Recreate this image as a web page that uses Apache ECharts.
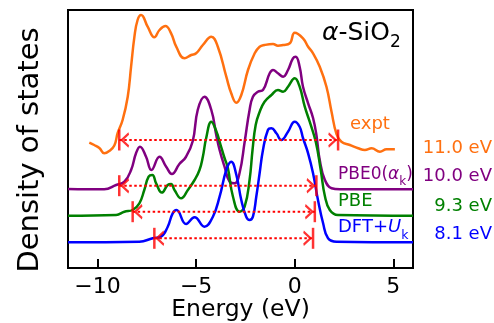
<!DOCTYPE html>
<html>
<head>
<meta charset="utf-8">
<script src="https://cdn.jsdelivr.net/npm/echarts@6/dist/echarts.min.js"></script>
<style>
  html, body { margin: 0; padding: 0; background: #fff; }
  #container { width: 494px; height: 323px; }
</style>
</head>
<body>
<div id="container"></div>
<script>
// curves, already shifted vertically (arb. units)
var exptE = [-10.42,-10.17,-9.91,-9.66,-9.41,-9.15,-8.98,-8.73,-8.47,-8.30,-8.13,-7.97,-7.79,-7.46,-7.12,-6.86,-6.56,-6.27,-6.01,-5.59,-5.25,-5.00,-4.66,-4.23,-3.90,-3.47,-3.22,-2.96,-2.71,-2.37,-2.03,-1.78,-1.53,-1.10,-0.85,-0.59,-0.25,0,0.42,0.68,0.93,1.27,1.61,1.87,2.12,2.37,2.80,3.22,3.56,3.90,4.32,4.66,5.08];
var exptD = [125.3,123,120,114.7,117,122.5,135,148,171.3,201.3,231.3,248,253,241.3,230.7,238,242,234.7,221.3,209.7,213,214.7,223,231.3,221.3,191.3,174.7,165.3,173,198,214.7,221.3,223,224,222.3,223,224.7,235.3,229.7,221.3,214.7,201.3,181.3,156,134,126.3,123,119.7,118,119.7,116.3,118.7,118.7];

var pbe0E = [-11.5,-9.66,-9.06,-8.64,-8.30,-8.05,-7.85,-7.54,-7.27,-6.86,-6.52,-6.23,-5.85,-5.52,-5.17,-4.92,-4.58,-4.23,-3.98,-3.81,-3.56,-3.30,-3.05,-2.80,-2.54,-2.29,-2.12,-1.87,-1.61,-1.27,-1.10,-0.85,-0.59,-0.34,-0.09,0.05,0.25,0.42,0.68,0.93,1.10,1.27,1.53,1.87,2.29,6.0];
var pbe0D = [79,78.7,83,86.3,98,114.7,121.3,111.3,98,111.3,101.3,94,104,111,127,158,171.3,158,133,118,101.3,86.3,84.7,94.7,126,158,171.3,176.3,178,194.7,198,194.7,191.3,198,209.7,211.3,201.3,181.3,164.7,150,133,108,88,79.7,78.7,78.7];

var pbeE = [-11.5,-9.06,-8.64,-8.22,-7.88,-7.63,-7.41,-7.22,-7.03,-6.74,-6.44,-6.27,-6.10,-5.76,-5.42,-5.08,-4.83,-4.66,-4.49,-4.23,-3.98,-3.76,-3.56,-3.39,-3.14,-2.80,-2.54,-2.29,-2.14,-1.98,-1.78,-1.53,-1.18,-0.85,-0.59,-0.34,0,0.25,0.51,0.76,1.07,1.32,1.53,1.78,2.19,6.0];
var pbeD = [52.3,53,56.3,58,64.7,78,91.3,93,84.7,75.5,83,84,78,69.7,78,88,98,111.3,130,146.3,137,123,110,100,72,56.3,61.3,88,118,143,156,166.3,173,178,176.3,181.3,189.7,181.3,161.3,146.3,126,98,72,58,53,52.3];

var dftuE = [-11.5,-7.88,-7.20,-6.78,-6.44,-6.19,-6.00,-5.51,-5.08,-4.58,-4.15,-3.81,-3.47,-3.22,-2.96,-2.71,-2.46,-2.29,-2.12,-1.95,-1.78,-1.61,-1.36,-1.18,-0.93,-0.68,-0.34,0,0.25,0.42,0.68,0.93,1.18,1.44,1.69,2.12,6.0];
var dftuD = [25.7,26.3,29.7,31.3,41.3,54.7,58,44,50.7,41.3,51.3,71.3,98,106.3,93,68,51.3,48,51.3,71.3,94.7,118,138,139.7,134.7,128,136.3,146.3,141.3,130,114.7,94.7,68,44.7,29.7,26.3,25.7];

// band gaps: edges (eV) and the height of each arrow
var gapLeft  = [-8.9, -8.9, -8.22, -7.12];
var gapRight = [2.2, 1.1, 1.02, 0.93];
var gapLevel = [128, 82.3, 56.3, 29.7];
var gapText  = ['11.0 eV', '10.0 eV', '9.3 eV', '8.1 eV'];

var xTicks = [-10, -5, 0, 5];
var colors = ['#ff7010', 'purple', 'green', 'blue'];

function zip(a, b) {
    var out = [];
    for (var i = 0; i < a.length; i++) out.push([a[i], b[i]]);
    return out;
}

var curves = [zip(exptE, exptD), zip(pbe0E, pbe0D), zip(pbeE, pbeD), zip(dftuE, dftuD)];
var FONT = 'DejaVu Sans';

var series = [];
curves.forEach(function (c, i) {
    series.push({
        type: 'line', data: c, smooth: 0.45, symbol: 'none', silent: true,
        lineStyle: { color: colors[i], width: 2.5 }, z: 2
    });
});

for (var i = 0; i < gapLeft.length; i++) {
    series.push({
        type: 'line', data: [[gapLeft[i], gapLevel[i]], [gapRight[i], gapLevel[i]]],
        symbol: 'none', silent: true, z: 3,
        lineStyle: { color: 'red', width: 2, type: [2.5, 2.5] }
    });
    // edge bars
    series.push({
        type: 'scatter', data: [[gapLeft[i], gapLevel[i]], [gapRight[i], gapLevel[i]]],
        symbol: 'rect', symbolSize: [2.5, 21], silent: true, z: 4,
        itemStyle: { color: 'red' }
    });
    // arrow heads
    series.push({
        type: 'scatter', data: [[gapLeft[i], gapLevel[i]]], silent: true, z: 4,
        symbol: 'path://M10,0 L0,5 L10,10', symbolSize: [7, 13], symbolOffset: [6, 0],
        itemStyle: { color: 'transparent', borderColor: 'red', borderWidth: 2 }
    });
    series.push({
        type: 'scatter', data: [[gapRight[i], gapLevel[i]]], silent: true, z: 4,
        symbol: 'path://M0,0 L10,5 L0,10', symbolSize: [7, 13], symbolOffset: [-6, 0],
        itemStyle: { color: 'transparent', borderColor: 'red', borderWidth: 2 }
    });
}

function rich(color, size, subSize, subDrop) {
    return {
        n: { fontFamily: FONT, fontSize: size, fill: color, lineHeight: size + 2, verticalAlign: 'top' },
        a: { fontFamily: FONT, fontSize: size, fill: color, fontStyle: 'italic', lineHeight: size + 2, verticalAlign: 'top' },
        s: { fontFamily: FONT, fontSize: subSize, fill: color, lineHeight: subSize, padding: [subDrop, 0, 0, 0], verticalAlign: 'top' }
    };
}

var graphics = [
    { type: 'text', rotation: Math.PI / 2, x: 30, y: 150,
      style: { text: 'Density of states', font: '29px "DejaVu Sans"', fill: '#000', align: 'center', verticalAlign: 'middle' } },
    { type: 'text', left: 322, top: 21, style: { text: '{a|α}{n|-SiO}{s|2}', rich: rich('#000', 25, 17, 13) } },
    { type: 'text', left: 350, top: 115, style: { text: 'expt', font: '18px "DejaVu Sans"', fill: colors[0] } },
    { type: 'text', left: 338, top: 166, style: { text: '{n|PBE0(}{a|α}{s|k}{n|)}', rich: rich('purple', 17, 12, 10) } },
    { type: 'text', left: 338, top: 192, style: { text: 'PBE', font: '18px "DejaVu Sans"', fill: 'green' } },
    { type: 'text', left: 338, top: 218, style: { text: '{n|DFT+}{a|U}{s|k}', rich: rich('blue', 18, 12.5, 11) } }
];
var gapY = [139, 167, 197, 225];
gapText.forEach(function (t, i) {
    graphics.push({ type: 'text', right: 2, top: gapY[i], style: { text: t, font: '18px "DejaVu Sans"', fill: colors[i] } });
});

var myChart = echarts.init(document.getElementById('container'));
var option = {
    animation: false,
    backgroundColor: '#fff',
    grid: { left: 68, right: 81, top: 10, bottom: 55, show: true, borderColor: '#000', borderWidth: 2,
            containLabel: false, outerBoundsMode: 'none' },
    xAxis: {
        type: 'value', min: -11.5, max: 6,
        name: 'Energy (eV)', nameLocation: 'middle', nameGap: 30, nameMoveOverlap: false,
        nameTextStyle: { fontFamily: FONT, fontSize: 23.5, color: '#000' },
        axisLine: { lineStyle: { color: '#000', width: 2 } },
        axisTick: { inside: true, length: 9, lineStyle: { color: '#000', width: 2 }, customValues: xTicks },
        axisLabel: {
            customValues: xTicks, fontFamily: FONT, fontSize: 22, color: '#000', margin: 8,
            formatter: function (v) { return String(v).replace('-', '\u2212'); }
        },
        splitLine: { show: false }
    },
    yAxis: {
        type: 'value', min: 0, max: 258,
        axisLine: { show: false }, axisTick: { show: false },
        axisLabel: { show: false }, splitLine: { show: false }
    },
    graphic: graphics,
    series: series
};
myChart.setOption(option);
</script>
</body>
</html>
